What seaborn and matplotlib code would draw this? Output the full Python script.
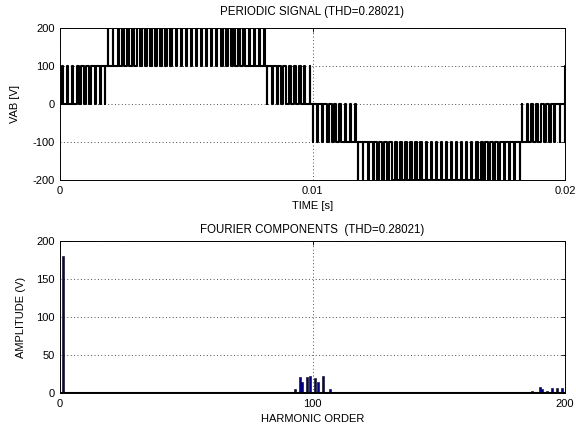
import numpy as np
import pandas as pd
import matplotlib
matplotlib.use("Agg")
import matplotlib.pyplot as plt
import seaborn as sns

# reference level (in 100 V steps) sampled once per carrier period, first quarter cycle
ref_quarter = [0.06, 0.17, 0.28, 0.39, 0.50, 0.61, 0.71, 0.82, 0.92, 1.01,
               1.10, 1.19, 1.27, 1.35, 1.42, 1.49, 1.55, 1.60, 1.65, 1.69,
               1.73, 1.76, 1.78, 1.79, 1.80]
step_volts = 100
period_s = 0.02
t_ticks = [0, 0.01, 0.02]
v_ticks = [-200, -100, 0, 100, 200]

# fourier components
harmonics = [1, 93, 95, 96, 98, 99, 101, 102, 104, 107,
             187, 190, 191, 193, 195, 197, 199]
amplitudes = [180, 5, 21, 15, 21, 22, 20, 15, 22, 5,
              3, 8, 5, 2, 6, 6, 6]
h_ticks = [0, 100, 200]
a_ticks = [0, 50, 100, 150, 200]

thd_text = "0.28021"

# build the stepped pwm waveform from the per-period levels
half = ref_quarter + ref_quarter[::-1]
levels = half + [-v for v in half]
n_per = len(levels)
tc = period_s / n_per
ts, vs = [0.0], [0.0]
for k, r in enumerate(levels):
    lo = np.floor(r)
    d = r - lo
    t0 = k * tc
    ton = t0 + tc * (1 - d) / 2
    toff = t0 + tc * (1 + d) / 2
    ts += [t0, t0, ton, ton, toff, toff]
    vs += [vs[-1], lo, lo, lo + 1, lo + 1, lo]
ts += [period_s, period_s, period_s]
vs += [vs[-1], 0, 1]
wave = pd.DataFrame({"t": ts, "v": np.array(vs) * step_volts})
spec = pd.DataFrame({"h": harmonics, "a": amplitudes})

sns.set_style("white")
plt.rcParams["font.family"] = ["Liberation Sans", "DejaVu Sans"]
plt.rcParams["font.size"] = 8
plt.rcParams["axes.unicode_minus"] = False
plt.rcParams["text.color"] = "black"
plt.rcParams["axes.labelcolor"] = "black"

fig = plt.figure(figsize=(5.76, 4.29), dpi=100)
ax1 = fig.add_axes([60 / 576, 1 - 180 / 429, 505 / 576, 152 / 429])
ax2 = fig.add_axes([60 / 576, 1 - 393 / 429, 505 / 576, 152 / 429])

sns.lineplot(data=wave, x="t", y="v", estimator=None, sort=False,
             color="black", linewidth=1.5, ax=ax1)
ax1.set_xlim(0, period_s)
ax1.set_ylim(-200, 200)
ax1.set_xticks(t_ticks)
ax1.set_xticklabels(["0", "0.01", "0.02"])
ax1.set_yticks(v_ticks)
ax1.set_title("PERIODIC SIGNAL (THD=" + thd_text + ")", fontsize=8.3, pad=9)
ax1.set_xlabel("TIME [s]", labelpad=4)
ax1.set_ylabel("VAB [V]", labelpad=9)

sns.barplot(data=spec, x="h", y="a", native_scale=True, color="#000080",
            edgecolor="black", linewidth=0.4, saturation=1, ax=ax2)
ax2.axhline(0, color="black", linewidth=1.5)
ax2.set_xlim(0, 200)
ax2.set_ylim(0, 200)
ax2.set_xticks(h_ticks)
ax2.set_xticklabels([str(x) for x in h_ticks])
ax2.set_yticks(a_ticks)
ax2.set_title("FOURIER COMPONENTS  (THD=" + thd_text + ")", fontsize=8.3, pad=6)
ax2.set_xlabel("HARMONIC ORDER", labelpad=4)
ax2.set_ylabel("AMPLITUDE (V)", labelpad=7)

for ax in (ax1, ax2):
    ax.grid(True, color="0.3", linestyle=(0, (1, 2.5)), linewidth=0.7)
    ax.set_axisbelow(True)
    ax.tick_params(direction="in", length=3, width=0.6, top=True, right=True,
                   labelsize=8, pad=4, colors="black")
    for s in ax.spines.values():
        s.set_color("black")
        s.set_linewidth(0.7)

fig.savefig("out.png", dpi=100)
